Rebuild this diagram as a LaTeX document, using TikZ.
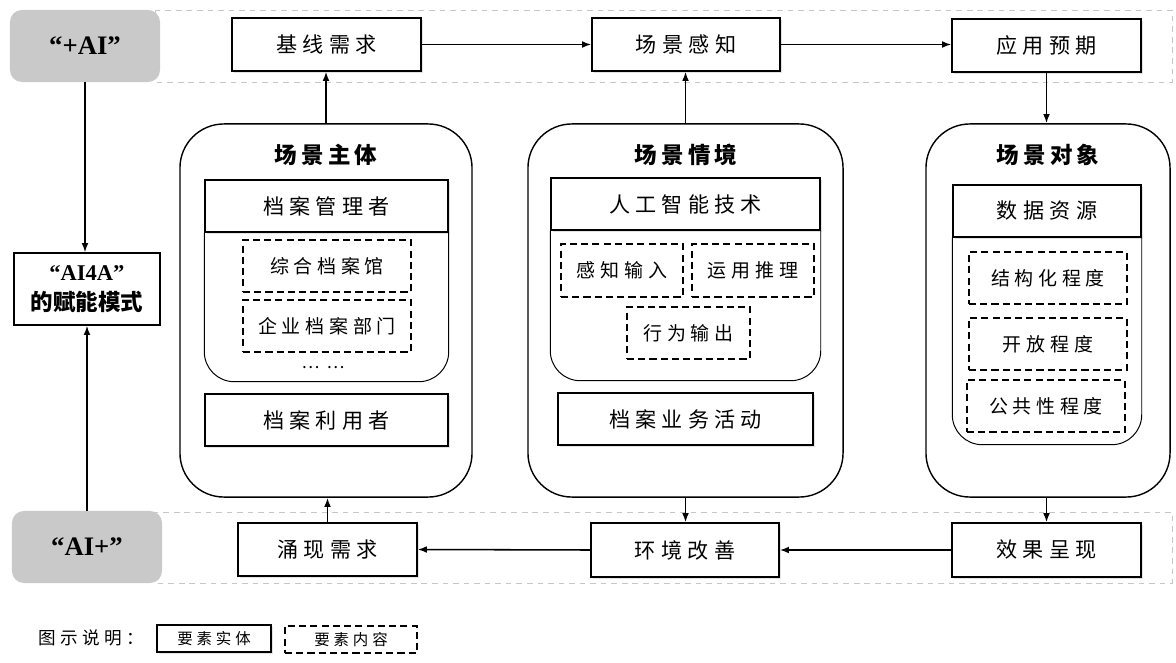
\documentclass[tikz,border=0pt]{standalone}
\usepackage{fontspec}
\setmainfont{Liberation Serif}
\newfontfamily\cjk[LetterSpace=25]{Noto Sans CJK SC}
\newfontfamily\cjkt[LetterSpace=18]{Noto Sans CJK SC}
\newfontfamily\cjkb{Noto Sans CJK SC}
\usetikzlibrary{arrows.meta,shadows}
\tikzset{
  entity/.style={draw, line width=1pt, fill=white, inner sep=0pt,
    drop shadow={shadow xshift=1.3pt, shadow yshift=-1.3pt, opacity=0.22},
    font=\cjk\fontsize{15}{18}\selectfont},
  content/.style={draw, line width=1pt, dash pattern=on 5pt off 3pt, inner sep=0pt,
    font=\cjk\fontsize{13.5}{16}\selectfont},
  mode/.style={fill=black!21, rounded corners=0.3cm, minimum width=3.75cm,
    minimum height=1.8cm, font=\bfseries\fontsize{19}{22}\selectfont},
  element/.style={draw, line width=1pt, rounded corners=1.1cm, inner sep=0pt},
  section/.style={draw, line width=0.7pt, rounded corners=0.75cm},
  title/.style={font=\cjkt\bfseries\fontsize{16}{19}\selectfont},
  band/.style={draw=black!22, line width=0.7pt, dash pattern=on 4pt off 3.5pt},
  flow/.style={-{Latex[length=2.3mm,width=1.7mm]}, line width=1.1pt}
}
\begin{document}
\begin{tikzpicture}[x=0.025cm, y=-0.025cm]
  \useasboundingbox (0,0) rectangle (1176,663);

  % Drawing bands of "+AI" and "AI+"
  \draw[band] (155,10) rectangle (1172,82);%
  \draw[band] (155,512) rectangle (1172,583);%

  % Marking the two modes and the AI4A box
  \node[mode] (plusai) at (85,46) {“+AI”};%
  \node[mode] (aiplus) at (87,547) {“AI+”};%
  \node[draw, line width=1pt, minimum width=3.65cm, minimum height=1.8cm, align=center,
    font=\bfseries\fontsize{16}{21}\selectfont] (aifora) at (87,289) {“AI4A”\\\cjkb 的赋能模式};%

  % Marking top row
  \node[entity, minimum width=4.725cm, minimum height=1.325cm] (base) at (326.5,44.5) {基线需求};%
  \node[entity, minimum width=4.7cm, minimum height=1.325cm] (perc) at (686,44.5) {场景感知};%
  \node[entity, minimum width=4.725cm, minimum height=1.325cm] (expect) at (1046.5,45.5) {应用预期};%

  % Marking bottom row
  \node[entity, minimum width=4.475cm, minimum height=1.325cm] (emerg) at (327.5,549.5) {涌现需求};%
  \node[entity, minimum width=4.7cm, minimum height=1.35cm] (improve) at (685,550) {环境改善};%
  \node[entity, minimum width=4.725cm, minimum height=1.35cm] (effect) at (1046.5,550) {效果呈现};%

  % Drawing element subj
  \node[element, minimum width=7.3cm, minimum height=9.325cm] (subj) at (326,310.5) {};%
  \node[title] (subjt) at (326,155) {场景主体};%
  \node[entity, minimum width=6.075cm, minimum height=1.3cm] (mgr) at (326.5,206) {档案管理者};%
  \draw[section] (mgr.south west) -- ++(0,149) -| (mgr.south east);%
  \node[content, minimum width=4.2cm, minimum height=1.3cm] (arch) at (327,266) {综合档案馆};%
  \node[content, minimum width=4.2cm, minimum height=1.3cm] (firm) at (327,326) {企业档案部门};%
  \node[font=\cjkb\fontsize{12}{14}\selectfont] (more) at (323,368) {…\hspace{5pt}…};%
  \node[entity, minimum width=6.075cm, minimum height=1.3cm] (user) at (326.5,420) {档案利用者};%

  % Drawing element ctx
  \node[element, minimum width=7.875cm, minimum height=9.325cm] (ctx) at (685.5,310.5) {};%
  \node[title] (ctxt) at (686,155) {场景情境};%
  \node[entity, minimum width=6.725cm, minimum height=1.3cm] (tech) at (685.5,204) {人工智能技术};%
  \draw[section] (tech.south west) -- ++(0,150) -| (tech.south east);%
  \node[content, minimum width=3.05cm, minimum height=1.325cm] (sense) at (622,270.5) {感知输入};%
  \node[content, minimum width=3.05cm, minimum height=1.325cm] (reason) at (753,270.5) {运用推理};%
  \node[content, minimum width=3.075cm, minimum height=1.3cm] (act) at (688.5,333) {行为输出};%
  \node[entity, minimum width=6.375cm, minimum height=1.3cm] (biz) at (685.5,419) {档案业务活动};%

  % Drawing element obj
  \node[element, minimum width=6.1cm, minimum height=9.325cm] (obj) at (1048,310.5) {};%
  \node[title] (objt) at (1048,155) {场景对象};%
  \node[entity, minimum width=4.7cm, minimum height=1.3cm] (data) at (1047,211) {数据资源};%
  \draw[section] (data.south west) -- ++(0,207) -| (data.south east);%
  \node[content, minimum width=3.95cm, minimum height=1.3cm] (struct) at (1048,278) {结构化程度};%
  \node[content, minimum width=3.95cm, minimum height=1.3cm] (open) at (1048,344) {开放程度};%
  \node[content, minimum width=3.95cm, minimum height=1.3cm] (public) at (1046,406) {公共性程度};%

  % Drawing flows
  \draw[flow] (plusai.south) -- (plusai.south |- aifora.north);%
  \draw[flow] (aiplus.north) -- (aiplus.north |- aifora.south);%
  \draw[flow] (subj.north) -- (subj.north |- base.south);%
  \draw[flow] (base.east) -- (perc.west);%
  \draw[flow] (ctx.north) -- (ctx.north |- perc.south);%
  \draw[flow] (perc.east) -- (perc.east -| expect.west);%
  \draw[flow] (expect.south) -- (expect.south |- obj.north);%
  \draw[flow] (effect.north |- obj.south) -- (effect.north);%
  \draw[flow] (ctx.south) -- (ctx.south |- improve.north);%
  \draw[flow] (effect.west) -- (improve.east);%
  \draw[flow] (improve.west) -- (emerg.east);%
  \draw[flow] (emerg.north) -- (emerg.north |- subj.south);%

  % Marking legend
  \node[font=\cjk\fontsize{12.5}{15}\selectfont] (key) at (91,638) {图示说明：};%
  \node[entity, minimum width=2.85cm, minimum height=0.675cm, font=\cjk\fontsize{11}{13}\selectfont] (keyent) at (214,638.5) {要素实体};%
  \node[content, minimum width=3.3cm, minimum height=0.675cm, font=\cjk\fontsize{11}{13}\selectfont] (keycon) at (351,639.5) {要素内容};%
\end{tikzpicture}
\end{document}
